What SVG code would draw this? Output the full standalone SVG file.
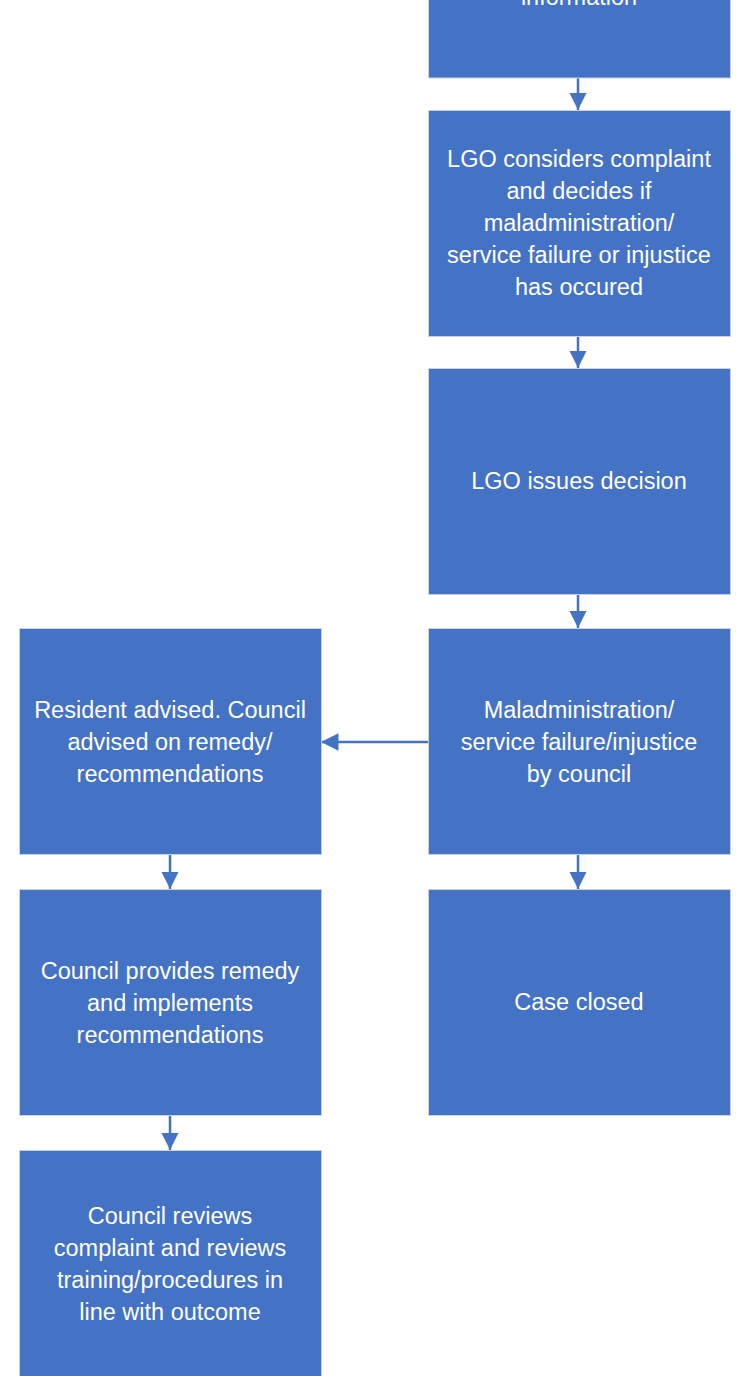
<svg xmlns="http://www.w3.org/2000/svg" width="746" height="1376" viewBox="0 0 746 1376">
<style>
.box{fill:#4472C4;stroke:#C9D1E0;stroke-width:1}
.t{fill:#FFFFFF;font-family:"Liberation Sans",Arial,sans-serif;font-size:23.5px;text-anchor:middle}
.c{stroke:#4472C4;stroke-width:2.5;fill:none}
</style>
<defs>
<marker id="ah" viewBox="0 0 10 10" refX="10" refY="5" markerWidth="7" markerHeight="7" markerUnits="strokeWidth" orient="auto">
<path d="M0,0 L10,5 L0,10 Z" fill="#4472C4"/>
</marker>
</defs>
<rect width="746" height="1376" fill="#FFFFFF"/>
<g id="connectors">
<line class="c" x1="578" y1="78" x2="578" y2="110" marker-end="url(#ah)"/>
<line class="c" x1="578" y1="336" x2="578" y2="368" marker-end="url(#ah)"/>
<line class="c" x1="578" y1="594" x2="578" y2="628" marker-end="url(#ah)"/>
<line class="c" x1="578" y1="854" x2="578" y2="889" marker-end="url(#ah)"/>
<line class="c" x1="428" y1="742" x2="321" y2="742" marker-end="url(#ah)"/>
<line class="c" x1="170" y1="854" x2="170" y2="889" marker-end="url(#ah)"/>
<line class="c" x1="170" y1="1115" x2="170" y2="1150" marker-end="url(#ah)"/>
</g>
<g id="n1">
<rect class="box" x="428.5" y="-148" width="302" height="226"/>
<text class="t" x="579" y="5">information</text>
</g>
<g id="n2">
<rect class="box" x="428.5" y="110.5" width="302" height="226"/>
<text class="t" x="579" y="167">LGO considers complaint</text>
<text class="t" x="579" y="199">and decides if</text>
<text class="t" x="579" y="231">maladministration/</text>
<text class="t" x="579" y="263">service failure or injustice</text>
<text class="t" x="579" y="295">has occured</text>
</g>
<g id="n3">
<rect class="box" x="428.5" y="368.5" width="302" height="226"/>
<text class="t" x="579" y="489">LGO issues decision</text>
</g>
<g id="n4">
<rect class="box" x="428.5" y="628.5" width="302" height="226"/>
<text class="t" x="579" y="718">Maladministration/</text>
<text class="t" x="579" y="750">service failure/injustice</text>
<text class="t" x="579" y="782">by council</text>
</g>
<g id="n5">
<rect class="box" x="428.5" y="889.5" width="302" height="226"/>
<text class="t" x="579" y="1010">Case closed</text>
</g>
<g id="n6">
<rect class="box" x="19.5" y="628.5" width="302" height="226"/>
<text class="t" x="170" y="718">Resident advised. Council</text>
<text class="t" x="170" y="750">advised on remedy/</text>
<text class="t" x="170" y="782">recommendations</text>
</g>
<g id="n7">
<rect class="box" x="19.5" y="889.5" width="302" height="226"/>
<text class="t" x="170" y="979">Council provides remedy</text>
<text class="t" x="170" y="1011">and implements</text>
<text class="t" x="170" y="1043">recommendations</text>
</g>
<g id="n8">
<rect class="box" x="19.5" y="1150.5" width="302" height="240"/>
<text class="t" x="170" y="1224">Council reviews</text>
<text class="t" x="170" y="1256">complaint and reviews</text>
<text class="t" x="170" y="1288">training/procedures in</text>
<text class="t" x="170" y="1320">line with outcome</text>
</g>
</svg>
